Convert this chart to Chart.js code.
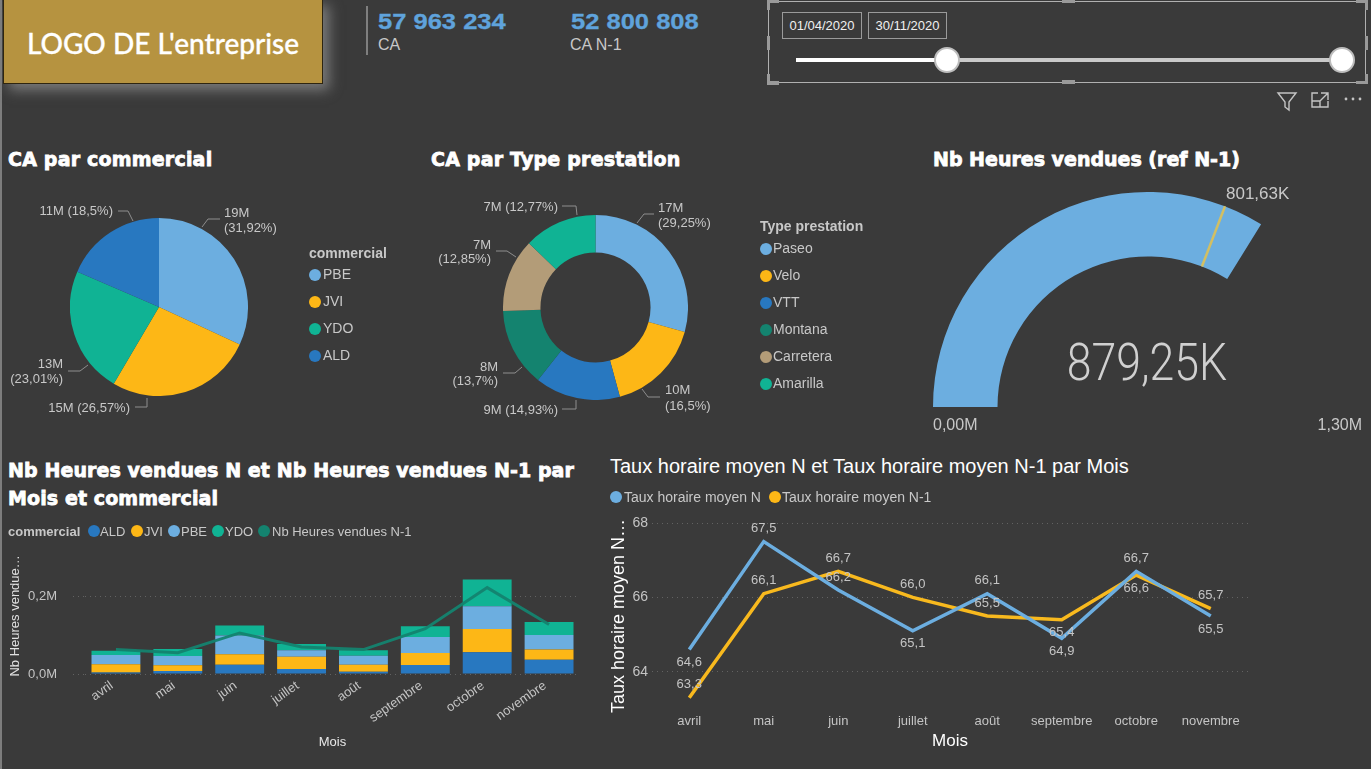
<!DOCTYPE html>
<html lang="fr">
<head>
<meta charset="utf-8">
<title>Tableau de bord CA</title>
<script src="https://cdn.jsdelivr.net/npm/chart.js@4"></script>
<style>
html, body { margin: 0; padding: 0; background: #3a3a3a; width: 1371px; height: 769px; overflow: hidden; }
body { position: relative; font-family: "Liberation Sans", Arial, sans-serif; color: #c8c8c8; }
.abs { position: absolute; white-space: nowrap; }
canvas { position: absolute; }
.titre { position: absolute; white-space: nowrap; font-family: "DejaVu Sans", sans-serif; font-weight: 700; font-size: 19px; letter-spacing: 0.2px; color: #fff; -webkit-text-stroke: 0.8px #fff; line-height: 28px; }
.logo { position: absolute; left: 3px; top: -1px; width: 318px; height: 83px; background: #b69340; border: 1px solid #2e2510; box-shadow: 6px 6px 12px #7a7a7a; color: #fff; font-family: Lato, sans-serif; font-weight: 500; font-size: 28px; -webkit-text-stroke: 0.3px #fff; line-height: 86px; text-align: center; }
.kpi { position: absolute; white-space: nowrap; font-weight: 700; font-size: 22px; color: #5fa3dc; -webkit-text-stroke: 0.3px #5fa3dc; transform: scaleX(1.16); transform-origin: left center; }
.lbl { position: absolute; white-space: nowrap; font-size: 14px; color: #c8c8c8; transform: translateY(-50%); }
.rond { position: absolute; width: 12px; height: 12px; border-radius: 50%; transform: translate(-50%, -50%); }
.date { position: absolute; box-sizing: border-box; height: 27px; border: 1px solid #9a9a9a; color: #f0f0f0; font-size: 13px; line-height: 25px; text-align: center; }
.poignee { position: absolute; box-sizing: border-box; width: 26px; height: 26px; border-radius: 50%; background: #fff; border: 2px solid #bdbdbd; transform: translate(-50%, -50%); }
</style>
</head>
<body>
<div class="abs" style="left:0;top:0;width:2px;height:769px;background:#7d7d7d"></div>
<div class="logo">LOGO DE L'entreprise</div>
<div class="abs" style="left:366px;top:6px;width:2px;height:49px;background:#7f7f7f"></div>
<div class="kpi" style="left:378px;top:9px">57 963 234</div>
<div class="abs" style="left:378px;top:36px;font-size:16px">CA</div>
<div class="kpi" style="left:571px;top:9px">52 800 808</div>
<div class="abs" style="left:570px;top:36px;font-size:16px">CA N-1</div>

<!-- slicer de dates -->
<div class="abs" style="left:768px;top:1px;width:598px;height:82px;border:1px solid #b0b0b0;box-sizing:border-box"></div>
<div class="date" style="left:782px;top:12px;width:80px">01/04/2020</div>
<div class="date" style="left:868px;top:12px;width:79px">30/11/2020</div>
<div class="abs" style="left:796px;top:58px;width:546px;height:4px;background:#c9c9c9"></div>
<div class="abs" style="left:796px;top:58px;width:151px;height:4px;background:#fff"></div>
<div class="poignee" style="left:947px;top:60px"></div>
<div class="poignee" style="left:1342px;top:60px"></div>
<svg class="abs" style="left:0;top:0" width="1371" height="120" fill="none" stroke="#c4c4c4" stroke-width="1.4">
  <path d="M1278 93H1296L1289 102V110L1285 107V102Z"/>
  <path d="M1318 93H1312V107H1328V101M1321 93H1328V100M1328 93L1320 101M1312 101H1320V107"/>
  <g fill="#c4c4c4" stroke="none"><circle cx="1346" cy="99" r="1.4"/><circle cx="1353" cy="99" r="1.4"/><circle cx="1360" cy="99" r="1.4"/></g>
  <g fill="#9a9a9a" stroke="none">
    <rect x="767" y="0" width="12" height="3"/><rect x="1356" y="0" width="12" height="3"/><rect x="1062" y="0" width="13" height="3"/>
    <rect x="767" y="81" width="12" height="4"/><rect x="1356" y="81" width="12" height="3"/><rect x="1062" y="80" width="13" height="4"/>
    <rect x="767" y="0" width="3" height="10"/><rect x="1365" y="0" width="3" height="10"/><rect x="767" y="36" width="3" height="14"/><rect x="1365" y="36" width="3" height="14"/>
    <rect x="767" y="74" width="3" height="10"/><rect x="1365" y="74" width="3" height="10"/>
  </g>
</svg>

<div class="titre" style="left:8px;top:145px">CA par commercial</div>
<div class="titre" style="left:431px;top:145px">CA par Type prestation</div>
<div class="titre" style="left:933px;top:145px;letter-spacing:0">Nb Heures vendues (ref N-1)</div>
<div class="titre" style="left:8px;top:456px;letter-spacing:0.1px">Nb Heures vendues N et Nb Heures vendues N-1 par<br>Mois et commercial</div>
<div class="abs" style="left:610px;top:455px;font-size:20px;color:#fff">Taux horaire moyen N et Taux horaire moyen N-1 par Mois</div>

<canvas id="camembert" width="178" height="178" style="left:70px;top:218px"></canvas>
<canvas id="anneau" width="185" height="185" style="left:503px;top:215px"></canvas>
<canvas id="jauge" width="430" height="215" style="left:933px;top:192px"></canvas>
<canvas id="barres" width="600" height="234" style="left:0;top:534px"></canvas>
<canvas id="lignes" width="660" height="250" style="left:600px;top:510px"></canvas>

<svg id="traits" class="abs" style="left:0;top:0" width="1371" height="769" fill="none" stroke="#8e8e8e" stroke-width="1"></svg>

<div class="abs" style="left:1147px;top:333px;transform:translateX(-50%) scaleX(0.875);font-family:Roboto,sans-serif;font-weight:300;font-size:51px;line-height:60px;color:#d0d0d0" id="jaugeValeur"></div>
<div class="abs" style="left:1226px;top:184px;font-size:17px;line-height:20px" id="jaugeCible"></div>
<div class="abs" style="left:933px;top:416px;font-size:16px;line-height:18px" id="jaugeMin"></div>
<div class="abs" style="right:9px;top:416px;font-size:16px;line-height:18px" id="jaugeMax"></div>

<script>
const commerciaux = ['PBE', 'JVI', 'YDO', 'ALD'];
const caCommercialM = [19, 15, 13, 11];
const caCommercialPct = [31.92, 26.57, 23.01, 18.5];

const prestations = ['Paseo', 'Velo', 'VTT', 'Montana', 'Carretera', 'Amarilla'];
const caPrestationM = [17, 10, 9, 8, 7, 7];
const caPrestationPct = [29.25, 16.5, 14.93, 13.7, 12.85, 12.77];

const heuresVendues = 879.25;
const heuresCible = 801.63;
const heuresMax = 1300;

const mois = ['avril', 'mai', 'juin', 'juillet', 'août', 'septembre', 'octobre', 'novembre'];
const heuresALD = [0.004, 0.008, 0.024, 0.013, 0.006, 0.023, 0.056, 0.037];
const heuresJVI = [0.021, 0.0145, 0.027, 0.0315, 0.018, 0.0315, 0.060, 0.026];
const heuresPBE = [0.024, 0.024, 0.0485, 0.017, 0.023, 0.041, 0.059, 0.038];
const heuresYDO = [0.011, 0.018, 0.026, 0.016, 0.0145, 0.028, 0.069, 0.033];
const heuresN1 = [0.063, 0.055, 0.106, 0.070, 0.063, 0.117, 0.223, 0.128];

const tauxN = [64.6, 67.5, 66.2, 65.1, 66.1, 64.9, 66.7, 65.5];
const tauxN1 = [63.3, 66.1, 66.7, 66.0, 65.5, 65.4, 66.6, 65.7];

// Couleurs du theme
const BLEU_CLAIR = '#6caee0', JAUNE = '#fdb716', VERT = '#10b394', BLEU = '#2878c0', SARCELLE = '#14836f', BEIGE = '#b39c78';
const couleursCommerciaux = [BLEU_CLAIR, JAUNE, VERT, BLEU];
const couleursPrestations = [BLEU_CLAIR, JAUNE, BLEU, SARCELLE, BEIGE, VERT];
const GRILLE = '#626262', TEXTE = '#c4c4c4';

Chart.defaults.font.family = '"Liberation Sans", Arial, sans-serif';
Chart.defaults.animation = false;
Chart.defaults.responsive = false;
Chart.defaults.plugins.legend.display = false;
Chart.defaults.plugins.tooltip.enabled = false;

const virgule = (v) => String(v).replace('.', ',');

// Petits utilitaires pour les textes autour des graphiques
function ajouterTexte(texte, x, y, aligne, taille) {
    const el = document.createElement('div');
    el.className = 'lbl';
    el.textContent = texte;
    el.style.top = y + 'px';
    if (taille) el.style.fontSize = taille + 'px';
    if (aligne === 'droite') el.style.right = (1371 - x) + 'px';
    else el.style.left = x + 'px';
    document.body.appendChild(el);
}

function ajouterRond(x, y, couleur) {
    const el = document.createElement('div');
    el.className = 'rond';
    el.style.left = x + 'px';
    el.style.top = y + 'px';
    el.style.background = couleur;
    document.body.appendChild(el);
}

function ajouterTrait(points) {
    const p = document.createElementNS('http://www.w3.org/2000/svg', 'polyline');
    p.setAttribute('points', points);
    document.getElementById('traits').appendChild(p);
}

function etiquette(i, montants, pcts, place) {
    const m = montants[i] + 'M';
    const pct = '(' + virgule(pcts[i]) + '%)';
    if (place.l2 !== undefined) {
        ajouterTexte(m, place.x, place.y, place.a, 13);
        ajouterTexte(pct, place.x, place.l2, place.a, 13);
    } else {
        ajouterTexte(m + ' ' + pct, place.x, place.y, place.a, 13);
    }
    ajouterTrait(place.t);
}

// Camembert CA par commercial
new Chart(document.getElementById('camembert'), {
    type: 'pie',
    data: { labels: commerciaux, datasets: [{ data: caCommercialPct, backgroundColor: couleursCommerciaux, borderWidth: 0 }] }
});
const placesPie = [
    { x: 224, y: 212, l2: 227, t: '202,227 208,219 220,219' },
    { x: 130, y: 407, a: 'droite', t: '135,407 147,407 147,398' },
    { x: 63, y: 363, l2: 378, a: 'droite', t: '68,371 80,371 88,365' },
    { x: 113, y: 210, a: 'droite', t: '118,211 128,211 133,221' }
];
placesPie.forEach((p, i) => etiquette(i, caCommercialM, caCommercialPct, p));

// Anneau CA par type de prestation
new Chart(document.getElementById('anneau'), {
    type: 'doughnut',
    data: { labels: prestations, datasets: [{ data: caPrestationPct, backgroundColor: couleursPrestations, borderWidth: 0 }] },
    options: { cutout: '59.5%' }
});
const placesAnneau = [
    { x: 658, y: 207, l2: 222, t: '637,223 644,214 654,214' },
    { x: 665, y: 389, l2: 405, t: '642,389 648,397 660,397' },
    { x: 558, y: 409, a: 'droite', t: '562,409 576,409 576,400' },
    { x: 498, y: 366, l2: 380, a: 'droite', t: '503,373 515,373 522,367' },
    { x: 491, y: 244, l2: 258, a: 'droite', t: '496,251 507,251 516,257' },
    { x: 558, y: 206, a: 'droite', t: '562,206 576,206 577,215' }
];
placesAnneau.forEach((p, i) => etiquette(i, caPrestationM, caPrestationPct, p));

// Legendes des deux graphiques du haut
const titreCom = document.createElement('div');
titreCom.className = 'lbl';
titreCom.textContent = 'commercial';
titreCom.style.cssText = 'left:309px;top:253px;font-weight:700';
document.body.appendChild(titreCom);
commerciaux.forEach((c, i) => {
    ajouterRond(315, 275 + i * 27, couleursCommerciaux[i]);
    ajouterTexte(c, 323, 274 + i * 27);
});
const titrePre = document.createElement('div');
titrePre.className = 'lbl';
titrePre.textContent = 'Type prestation';
titrePre.style.cssText = 'left:760px;top:226px;font-weight:700';
document.body.appendChild(titrePre);
prestations.forEach((c, i) => {
    ajouterRond(766, 249 + i * 27, couleursPrestations[i]);
    ajouterTexte(c, 773, 248 + i * 27);
});

// Jauge : trait de reference dessine sur l'arc
const traitCible = {
    id: 'traitCible',
    afterDatasetsDraw(chart) {
        const arc = chart.getDatasetMeta(0).data[0];
        const angle = -Math.PI + Math.PI * heuresCible / heuresMax;
        const c = chart.ctx;
        c.save();
        c.strokeStyle = '#d2bf63';
        c.lineWidth = 2.5;
        c.beginPath();
        c.moveTo(arc.x + Math.cos(angle) * arc.innerRadius, arc.y + Math.sin(angle) * arc.innerRadius);
        c.lineTo(arc.x + Math.cos(angle) * arc.outerRadius, arc.y + Math.sin(angle) * arc.outerRadius);
        c.stroke();
        c.restore();
    }
};
new Chart(document.getElementById('jauge'), {
    type: 'doughnut',
    data: { datasets: [{ data: [heuresVendues, heuresMax - heuresVendues], backgroundColor: [BLEU_CLAIR, 'transparent'], borderWidth: 0 }] },
    options: { rotation: -90, circumference: 180, cutout: '70%' },
    plugins: [traitCible]
});
const enK = (v) => v.toFixed(2).replace('.', ',') + 'K';
const enM = (v) => (v / 1000).toFixed(2).replace('.', ',') + 'M';
document.getElementById('jaugeValeur').textContent = enK(heuresVendues);
document.getElementById('jaugeCible').textContent = enK(heuresCible);
document.getElementById('jaugeMin').textContent = enM(0);
document.getElementById('jaugeMax').textContent = enM(heuresMax);

// Barres empilees + ligne N-1
const legendeBarres = [['ALD', BLEU, 94, 100], ['JVI', JAUNE, 137, 144], ['PBE', BLEU_CLAIR, 174, 181], ['YDO', VERT, 218, 225], ['Nb Heures vendues N-1', SARCELLE, 264, 272]];
const titreBar = document.createElement('div');
titreBar.className = 'lbl';
titreBar.textContent = 'commercial';
titreBar.style.cssText = 'left:8px;top:531px;font-weight:700;font-size:13px';
document.body.appendChild(titreBar);
legendeBarres.forEach(([nom, coul, xr, xt]) => {
    ajouterRond(xr, 531, coul);
    ajouterTexte(nom, xt, 531, 'gauche', 13);
});

const barre = (label, data, couleur) => ({ type: 'bar', label, data, backgroundColor: couleur, borderWidth: 0, categoryPercentage: 0.79, barPercentage: 1, order: 2 });
new Chart(document.getElementById('barres'), {
    data: {
        labels: mois,
        datasets: [
            barre('ALD', heuresALD, BLEU),
            barre('JVI', heuresJVI, JAUNE),
            barre('PBE', heuresPBE, BLEU_CLAIR),
            barre('YDO', heuresYDO, VERT),
            { type: 'line', label: 'Nb Heures vendues N-1', data: heuresN1, borderColor: 'rgba(20,131,111,0.95)', borderWidth: 3, pointRadius: 0, tension: 0, order: 1 }
        ]
    },
    options: {
        layout: { padding: { left: 8, right: 20, top: 0, bottom: 0 } },
        scales: {
            x: {
                stacked: true,
                grid: { display: false, drawTicks: false },
                border: { display: false },
                ticks: { color: TEXTE, font: { size: 13 }, minRotation: 35, maxRotation: 35, padding: 4, labelOffset: -4, autoSkip: false },
                title: { display: true, text: 'Mois', color: '#e8e8e8', font: { size: 13 }, padding: { top: 0, bottom: 18 } },
                afterFit: (s) => { s.height = 94; }
            },
            y: {
                stacked: true,
                min: 0,
                max: 0.3,
                ticks: { stepSize: 0.2, color: TEXTE, font: { size: 13 }, padding: 16, callback: (v) => v.toFixed(1).replace('.', ',') + 'M' },
                grid: { color: GRILLE, tickColor: GRILLE, tickLength: 12, tickBorderDash: [1, 4] },
                border: { display: false, dash: [1, 4] },
                title: { display: true, text: 'Nb Heures vendue…', color: '#e0e0e0', font: { size: 13 }, padding: 0 },
                afterBuildTicks: (s) => { s.ticks = s.ticks.filter((t) => Math.abs(t.value * 10 % 2) < 0.001); },
                afterFit: (s) => { s.width = 77; }
            }
        }
    }
});

// Courbes du taux horaire
[['Taux horaire moyen N', BLEU_CLAIR, 616, 624], ['Taux horaire moyen N-1', JAUNE, 775, 782]].forEach(([nom, coul, xr, xt]) => {
    ajouterRond(xr, 497, coul);
    ajouterTexte(nom, xt, 497);
});

// position des etiquettes : 1 au-dessus, -1 en dessous
const sensN = [-1, 1, 1, -1, 1, -1, 1, -1];
const sensN1 = [1, 1, 1, 1, 1, -1, -1, 1];
const etiquettesCourbes = {
    id: 'etiquettesCourbes',
    afterDatasetsDraw(chart) {
        const c = chart.ctx;
        c.save();
        c.font = '13px "Liberation Sans", Arial, sans-serif';
        c.fillStyle = TEXTE;
        c.textAlign = 'center';
        c.textBaseline = 'middle';
        chart.data.datasets.forEach((ds, d) => {
            const sens = d === 0 ? sensN : sensN1;
            chart.getDatasetMeta(d).data.forEach((pt, i) => {
                c.fillText(ds.data[i].toFixed(1).replace('.', ','), pt.x, pt.y - sens[i] * 13);
            });
        });
        c.restore();
    }
};
new Chart(document.getElementById('lignes'), {
    type: 'line',
    data: {
        labels: mois,
        datasets: [
            { label: 'Taux horaire moyen N', data: tauxN, borderColor: BLEU_CLAIR, borderWidth: 3.5, pointRadius: 0, tension: 0 },
            { label: 'Taux horaire moyen N-1', data: tauxN1, borderColor: '#f8b91e', borderWidth: 3.5, pointRadius: 0, tension: 0 }
        ]
    },
    options: {
        layout: { padding: { left: 8, right: 12, top: 13, bottom: 0 } },
        scales: {
            x: {
                offset: true,
                grid: { display: false, drawTicks: false },
                border: { display: false },
                ticks: { color: TEXTE, font: { size: 13 }, maxRotation: 0, padding: 5, autoSkip: false },
                title: { display: true, text: 'Mois', color: '#fff', font: { size: 17 }, padding: { top: 0, bottom: 8 } },
                afterFit: (s) => { s.height = 51; }
            },
            y: {
                min: 63,
                max: 68,
                ticks: { stepSize: 1, color: TEXTE, font: { size: 14 }, padding: 4 },
                grid: { color: GRILLE, drawTicks: false },
                border: { display: false, dash: [1, 4] },
                title: { display: true, text: 'Taux horaire moyen N…', color: '#fff', font: { size: 18 }, padding: 0 },
                afterBuildTicks: (s) => { s.ticks = s.ticks.filter((t) => t.value % 2 === 0); },
                afterFit: (s) => { s.width = 44; }
            }
        }
    },
    plugins: [etiquettesCourbes]
});
</script>
</body>
</html>
